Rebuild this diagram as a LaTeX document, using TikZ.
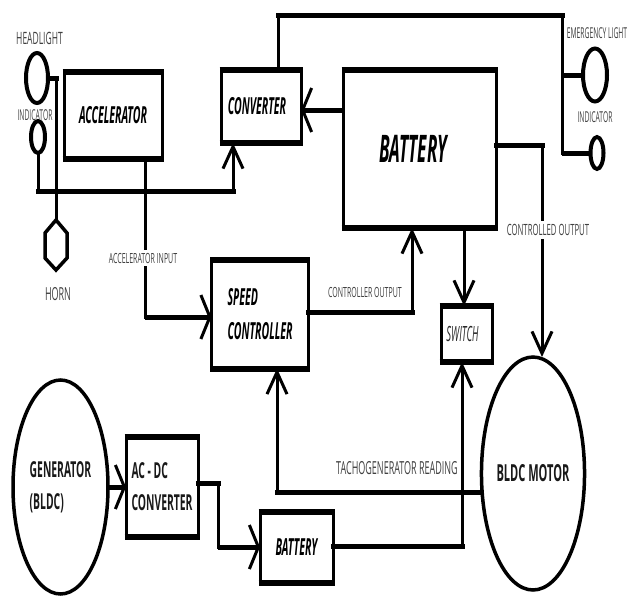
\documentclass[tikz,border=0pt]{standalone}
\usepackage{fontspec}
\setmainfont{Open Sans}
\newfontfamily\nf{Open Sans}[FakeStretch=0.45]
\newfontfamily\uf{Open Sans}[FakeStretch=0.47]
\newfontfamily\lf{Open Sans}[FakeStretch=0.5]
\usetikzlibrary{arrows.meta,shapes.geometric}
\tikzset{
  box/.style={draw, line width=3pt, rectangle, inner sep=0pt, outer sep=0pt},
  ell/.style={draw, ellipse, line width=3.5pt, inner sep=0pt, outer sep=0pt},
  hc/.style={line width=5pt},
  hcr/.style={line width=5pt, line cap=rect},
  vc/.style={line width=3pt},
  vcr/.style={line width=3pt, line cap=rect},
  tipv/.style={-{Straight Barb[length=22pt,width=20pt,line width=3pt]}},
  tiph/.style={-{Straight Barb[length=9pt,width=44pt,line width=3pt]}},
  bt/.style={text=black, font=\nf\bfseries\itshape\fontsize{23.5}{34}\selectfont},
  ut/.style={text=black!90, font=\uf\bfseries\fontsize{22}{32}\selectfont, align=left},
  lab/.style={text=black!75, inner sep=1pt, font=\lf\fontsize{18}{18}\selectfont},
  labs/.style={text=black!75, inner sep=1pt, font=\nf\fontsize{15}{15}\selectfont},
  labw/.style={lab, fill=white, inner sep=3pt}
}
\begin{document}
\begin{tikzpicture}[x=1pt,y=-1pt]
\useasboundingbox (0,0) rectangle (634,595);
% lamps
\node[ell, line width=4pt, minimum width=22pt, minimum height=50pt] (hl) at (37,78) {};
\node[ell, line width=4pt, minimum width=14pt, minimum height=32pt] (ind1) at (38,137) {};
\node[ell, line width=4pt, minimum width=24pt, minimum height=53pt] (el) at (595,75) {};
\node[ell, line width=4pt, minimum width=13pt, minimum height=32pt] (ind2) at (597,153) {};
\coordinate (horntop) at (56,220);
\draw[line width=3.5pt, line join=miter] (horntop) -- (67,233) -- (67,258) -- (56,270) -- (45,258) -- (45,233) -- cycle;
% labels of lamps
\node[lab, font=\lf\fontsize{17}{17}\selectfont] (lhl) at (39.5,38.5) {HEADLIGHT};
\node[labs] (lind1) at (35,115) {INDICATOR};
\node[lab] (lhorn) at (58,294) {HORN};
\node[labs] (lel) at (597,33) {EMERGENCY LIGHT};
\node[labs] (lind2) at (595,117) {INDICATOR};
% boxes
\node[box, minimum width=98pt, minimum height=87pt, bt] (acc) at (113,115.5) {ACCELERATOR};
\node[box, minimum width=80pt, minimum height=73pt, bt] (conv) at (261,106.5) {\hspace*{0pt}CONVERTER\hspace*{8pt}};
\node[box, minimum width=153pt, minimum height=158pt, bt, font=\nf\bfseries\itshape\fontsize{38}{40}\selectfont] (bat) at (419.5,149) {BATTERY\hspace*{12pt}};
\node[box, minimum width=97pt, minimum height=109pt, bt, align=left] (sc) at (260,314) {SPEED\\CONTROLLER};
\node[box, minimum width=51pt, minimum height=56pt, text=black!85, font=\nf\itshape\fontsize{21}{21}\selectfont] (sw) at (466.5,334) {SWITCH\hspace*{8pt}};
\node[box, minimum width=72pt, minimum height=100pt, ut] (acdc) at (162,487) {AC - DC\\CONVERTER};
\node[box, minimum width=73pt, minimum height=71pt, bt] (bat2) at (296.5,547.5) {BATTERY};
\node[ell, minimum width=95pt, minimum height=214pt, ut] (gen) at (60.5,487) {GENERATOR\\(BLDC)};
\node[ell, minimum width=100pt, minimum height=233pt, ut, font=\uf\bfseries\fontsize{23.5}{24}\selectfont] (mot) at (533,473.5) {BLDC MOTOR};
\foreach \n in {acc,conv,bat,sc,sw,acdc,bat2}{
  \draw[line width=6pt, shorten <=-1.5pt, shorten >=-1.5pt] (\n.north west) -- (\n.north east);
  \draw[line width=6pt, shorten <=-1.5pt, shorten >=-1.5pt] (\n.south west) -- (\n.south east);
}
% junction coordinates
\coordinate (hj) at (56,78);
\coordinate (j1) at (38,191);
\coordinate (j2) at (233,191);
\coordinate (t1) at (278,15);
\coordinate (t2) at (562,15);
\coordinate (t3) at (562,153);
\coordinate (t4) at (562,75);
\coordinate (bc) at (0,110);
\coordinate (co) at (542,145);
\coordinate (bs) at (464,0);
\coordinate (co2) at (412,312);
\coordinate (ai) at (145,317);
\coordinate (tg) at (277,492);
\coordinate (k1) at (218,483);
\coordinate (k2) at (218,547);
\coordinate (l1) at (462,546);
% connectors
\draw[hcr] (hl.east) -- (hj);
\draw[vcr] (hj) -- (horntop);
\draw[vcr] (ind1.south) -- (j1);
\draw[hcr] (j1) -- (j2);
\draw[vc, tipv] (j2) -- (j2 |- conv.south);
\draw[vcr] (t1 |- conv.north) -- (t1);
\draw[hcr] (t1) -- (t2);
\draw[vcr] (t2) -- (t3);
\draw[hc] (t3) -- (ind2.west);
\draw[hc] (t4) -- (el.west);
\draw[hc, tiph] (bat.west |- bc) -- (conv.east |- bc);
\draw[hcr] (bat.east |- co) -- (co);
\draw[vc, tipv] (co) -- (co |- mot.north);
\draw[vc, tipv] (bs |- bat.south) -- (bs |- sw.north);
\draw[hcr] (sc.east |- co2) -- (co2);
\draw[vc, tipv] (co2) -- (co2 |- bat.south);
\draw[vcr] (ai |- acc.south) -- (ai);
\draw[hc, tiph] (ai) -- (sc.west |- ai);
\draw[hcr] (mot.west |- tg) -- (tg);
\draw[vc, tipv] (tg) -- (tg |- sc.south);
\draw[hc, tiph] (gen.east) -- (acdc.west);
\draw[hcr] (acdc.east |- k1) -- (k1);
\draw[vcr] (k1) -- (k2);
\draw[hc, tiph] (k2) -- (bat2.west |- k2);
\draw[hcr] (bat2.east |- l1) -- (l1);
\draw[vc, tipv] (l1) -- (l1 |- sw.south);
% connector labels
\node[labw, font=\lf\fontsize{14}{14}\selectfont] (lai) at (143,258) {ACCELERATOR INPUT};
\node[lab, font=\lf\fontsize{14}{14}\selectfont] (lco) at (365,292) {CONTROLLER OUTPUT};
\node[labw, font=\lf\fontsize{15.5}{15.5}\selectfont] (lcd) at (548,230) {CONTROLLED OUTPUT};
\node[lab] (ltg) at (397,468) {TACHOGENERATOR READING};
\end{tikzpicture}
\end{document}
